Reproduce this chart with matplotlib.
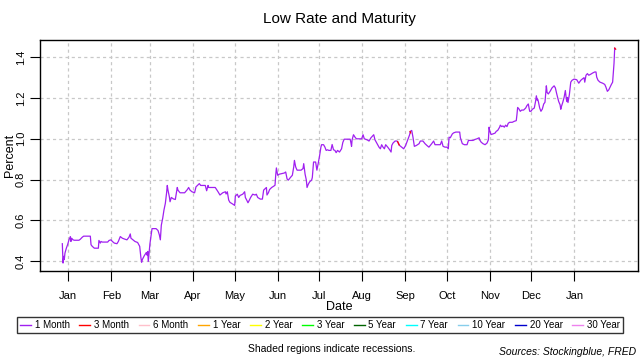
import datetime as dt
import numpy as np
import matplotlib
matplotlib.use("Agg")
import matplotlib.pyplot as plt
import matplotlib.dates as mdates
from matplotlib.lines import Line2D

plt.rcParams['font.family'] = ['Liberation Sans', 'DejaVu Sans']

# ---- data (day offsets from 2017-01-01, low rate in percent) ----
days = [
    -4.3, -3.8, -3.3, -2.9, -2.4, -1.4, -0.5, 0.5, 1.5, 1.9, 2.4, 3.4, 4.3, 7.7, 8.7, 10.1, 11.1, 15.9,
    16.4, 17.3, 18.8, 21.7, 22.1, 23.1, 23.6, 24.5, 28.4, 29.4, 30.8, 31.8, 33.2, 35.1, 36.1, 37.5,
    39.0, 40.9, 42.3, 43.8, 44.7, 45.2, 46.7, 48.1, 50.0, 51.5, 52.4, 52.9, 53.4, 54.8, 56.3, 56.8,
    57.3, 57.7,
    58.9, 59.9, 60.4, 63.3, 64.7, 65.7, 66.4, 67.1, 68.1, 69.0, 70.0, 70.9, 71.4, 71.9, 72.9, 73.4,
    74.3, 75.8, 77.2, 78.6, 79.1, 80.6, 83.9, 85.9, 86.8, 87.8, 89.2, 91.1, 92.1, 94.5, 95.5, 98.8,
    99.8, 100.8, 101.2, 106.0, 108.0, 109.4, 111.4, 113.3, 113.8, 114.7, 115.7, 116.6, 118.5, 120.0,
    120.5, 121.9, 122.9, 123.9, 125.8, 127.2, 127.7, 128.7, 129.6, 130.6, 131.5, 133.0,
    134.7, 135.6, 136.6, 138.5, 140.0, 140.9, 142.9, 143.3, 144.3, 145.2, 146.7, 148.1, 149.1, 149.6,
    150.1, 151.0, 152.0, 153.9, 155.8, 156.8, 157.8, 158.7, 160.2, 161.6, 162.6, 163.1, 164.0, 165.0,
    167.9, 169.3, 169.8, 170.8, 171.7, 172.2, 173.1, 174.1, 175.5, 176.0, 176.5, 176.9, 178.4, 179.3,
    180.3, 181.3, 182.2, 182.7, 184.1, 185.1, 186.0, 187.0, 187.9, 189.4, 190.3, 191.3, 192.3, 193.2,
    194.2, 195.6, 197.1, 198.0, 199.0, 203.3, 203.8, 204.3, 204.7, 205.7,
    206.8, 207.8, 211.6, 212.6, 213.5, 215.5, 216.9, 218.3, 220.3, 221.2, 222.7, 224.1, 225.1, 226.0,
    227.0, 228.0, 228.9, 230.4, 231.8, 232.8, 233.3, 234.2, 235.7, 237.1, 239.0, 240.5, 241.9, 243.3,
    244.8, 246.2, 246.7, 247.7, 248.6, 249.6, 251.0, 253.0, 253.9, 255.8, 257.3, 258.7, 260.1, 262.1,
    263.5, 264.5, 268.3, 269.3, 270.3, 271.7, 273.1, 274.1, 274.6, 275.5, 277.0, 277.9,
    279.5, 282.3, 282.8, 284.2, 285.7, 287.6, 288.6, 291.9, 293.4, 294.8, 296.3, 296.7, 297.7, 299.1,
    300.6, 302.0, 303.0, 303.5, 303.9, 304.9, 306.3, 307.8, 308.7, 309.7, 311.1, 311.6, 312.6, 313.5,
    314.5, 315.4, 316.4, 317.3, 318.3, 320.2, 321.7, 323.1, 323.6, 324.1, 325.1, 326.0, 327.0, 328.4,
    329.9, 330.8, 331.8, 332.3, 332.8, 333.7, 334.7, 336.1, 337.1, 337.6, 338.1, 338.5, 339.0, 340.0,
    340.9, 341.9, 342.9, 343.8, 344.8, 345.3, 346.2,
    347.5, 348.9, 350.4, 351.3, 352.3, 353.7, 354.7, 355.2, 355.6, 356.6, 357.6, 358.5, 359.0, 359.5,
    360.0, 360.4, 361.4, 362.4, 363.3, 364.8, 366.7, 368.2, 369.6, 371.0, 372.0, 372.5, 373.4, 374.4,
    375.4, 376.8, 378.2, 379.7, 380.6, 381.1, 382.1, 383.5, 385.4, 386.9, 387.8, 388.8, 389.8, 390.7,
    391.7, 392.6, 393.6, 394.1,
]
low_rate = [
    0.485, 0.390, 0.423, 0.407, 0.439, 0.463, 0.480, 0.504, 0.520, 0.496, 0.512, 0.504, 0.502, 0.502, 0.507, 0.517, 0.522, 0.522,
    0.480, 0.472, 0.463, 0.463, 0.501, 0.488, 0.496, 0.493, 0.493, 0.501, 0.504, 0.496, 0.488, 0.485, 0.496, 0.520,
    0.512, 0.507, 0.504, 0.517, 0.533, 0.512, 0.504, 0.496, 0.491, 0.472, 0.415, 0.394, 0.407, 0.426, 0.442, 0.429,
    0.447, 0.398,
    0.485, 0.537, 0.559, 0.559, 0.550, 0.528, 0.504, 0.576, 0.610, 0.650, 0.683, 0.735, 0.771, 0.748, 0.715, 0.691,
    0.712, 0.705, 0.702, 0.761, 0.748, 0.735, 0.735, 0.751, 0.761, 0.748, 0.740, 0.735, 0.764, 0.780, 0.771, 0.771,
    0.745, 0.771, 0.761, 0.761, 0.740, 0.724, 0.735, 0.740, 0.729, 0.740, 0.699, 0.688, 0.680, 0.673,
    0.719, 0.728, 0.712, 0.722, 0.728, 0.740, 0.712, 0.699, 0.686, 0.699, 0.712, 0.728,
    0.724, 0.728, 0.712, 0.704, 0.704, 0.748, 0.761, 0.724, 0.735, 0.751, 0.761, 0.767, 0.772, 0.821,
    0.857, 0.821, 0.826, 0.829, 0.832, 0.837, 0.803, 0.797, 0.810, 0.821, 0.862, 0.894, 0.862, 0.846,
    0.846, 0.854, 0.878, 0.826, 0.797, 0.761, 0.777, 0.789, 0.797, 0.810, 0.854, 0.886, 0.886, 0.846,
    0.881, 0.919, 0.959, 0.971, 0.971, 0.959, 0.943, 0.946, 0.943, 0.943, 0.972, 0.946, 0.943, 0.932,
    0.943, 0.935, 0.951, 0.982, 0.998, 0.998, 0.982, 0.963, 0.995, 1.020,
    1.008, 1.000, 1.000, 1.020, 1.000, 0.995, 0.989, 1.005, 1.020, 0.995, 0.976, 0.959, 0.951, 0.971,
    0.959, 0.951, 0.971, 0.959, 0.946, 0.935, 0.967, 0.979, 0.989, 0.989, 0.967, 0.959, 0.951, 0.967,
    0.995, 1.020, 1.036, 1.041, 1.008, 0.963, 0.967, 0.976, 0.989, 0.989, 0.976, 0.967, 0.959, 0.976,
    0.989, 0.971, 0.971, 0.989, 0.963, 0.959, 0.959, 0.951, 1.008, 1.005, 1.024, 1.029,
    1.033, 1.033, 1.005, 0.976, 0.971, 0.971, 0.992, 0.992, 0.997, 1.000, 1.005, 0.995, 0.984, 0.976,
    0.971, 0.979, 0.995, 1.057, 1.041, 1.021, 1.024, 1.028, 1.037, 1.041, 1.057, 1.067, 1.060, 1.063,
    1.057, 1.067, 1.060, 1.076, 1.081, 1.081, 1.086, 1.089, 1.119, 1.154, 1.146, 1.135, 1.141, 1.141,
    1.151, 1.163, 1.171, 1.151, 1.135, 1.135, 1.145, 1.151, 1.187, 1.211, 1.190, 1.195, 1.184, 1.151,
    1.135, 1.146, 1.171, 1.179, 1.260, 1.228, 1.220,
    1.233, 1.250, 1.260, 1.250, 1.220, 1.183, 1.167, 1.145, 1.157, 1.178, 1.203, 1.237, 1.207, 1.183,
    1.203, 1.178, 1.217, 1.278, 1.287, 1.293, 1.290, 1.273, 1.287, 1.295, 1.300, 1.278, 1.312, 1.320,
    1.312, 1.317, 1.323, 1.328, 1.328, 1.303, 1.287, 1.278, 1.273, 1.267, 1.253, 1.233, 1.240, 1.253,
    1.267, 1.278, 1.370, 1.445,
]
# short stretches where the 3 Month rate was the low rate
days_3m = [237.6, 238.6, np.nan, 246.5, 246.9, np.nan, 394.1, 394.8]
rate_3m = [0.986, 0.970, np.nan, 1.036, 1.029, np.nan, 1.445, 1.440]

maturities = ["1 Month", "3 Month", "6 Month", "1 Year", "2 Year", "3 Year",
              "5 Year", "7 Year", "10 Year", "20 Year", "30 Year"]
mat_colors = ["#A020F0", "#FF0000", "#FFC0CB", "#FFA500", "#FFFF00", "#00FF00",
              "#006400", "#00FFFF", "#87CEEB", "#0000CD", "#EE82EE"]

month_labels = ["Jan", "Feb", "Mar", "Apr", "May", "Jun", "Jul", "Aug", "Sep",
                "Oct", "Nov", "Dec", "Jan"]
y_ticks = [0.4, 0.6, 0.8, 1.0, 1.2, 1.4]

# ---- figure ----
base = mdates.date2num(dt.datetime(2017, 1, 1))
x = base + np.array(days)
x3 = base + np.array(days_3m)

fig = plt.figure(figsize=(6.4, 3.6), dpi=100)
ax = fig.add_axes([40/640, 1-271/360, 598/640, 231/360])

month_ticks = [mdates.date2num(dt.datetime(2017 + (m // 12), m % 12 + 1, 1)) for m in range(13)]
for t in month_ticks:
    ax.axvline(t, color="#c8c8c8", lw=0.9, ls=(0, (2.5, 2.5)), zorder=1)
for t in y_ticks:
    ax.axhline(t, color="#c8c8c8", lw=0.9, ls=(0, (2.5, 2.5)), zorder=1)

ax.plot(x, low_rate, color=mat_colors[0], lw=0.9, zorder=3)
ax.plot(x3, rate_3m, color=mat_colors[1], lw=0.9, zorder=4)

ax.set_xlim(base - 20.4, base + 410.9)
ax.set_ylim(0.351, 1.485)
ax.set_xticks(month_ticks)
ax.set_xticklabels(month_labels)
ax.set_yticks(y_ticks)
ax.set_yticklabels([f"{v:.1f}" for v in y_ticks], rotation=90, va="center")
ax.tick_params(axis="both", labelsize=8, length=7.3, width=0.8, color="black", direction="out")
ax.tick_params(axis="x", pad=7)
ax.tick_params(axis="y", pad=3)
for s in ax.spines.values():
    s.set_linewidth(1.0)
    s.set_color("black")

fig.text(339/640, 1-307/360, "Date", ha="center", va="center", fontsize=9)
fig.text(10/640, 1-155/360, "Percent", ha="center", va="center", fontsize=9, rotation=90)
fig.text(339/640, 1-19/360, "Low Rate and Maturity", ha="center", va="center", fontsize=11)

handles = [Line2D([0], [0], color=c, lw=1.0) for c in mat_colors]
leg = fig.legend(handles, maturities, loc="center", bbox_to_anchor=(320/640, 1-325/360),
                 ncol=11, fontsize=7, frameon=True, fancybox=False, edgecolor="black",
                 handlelength=1.1, handletextpad=0.4, columnspacing=1.0, borderpad=0.3,
                 borderaxespad=0)
leg.get_frame().set_linewidth(1.0)

fig.text(332/640, 1-349/360, "Shaded regions indicate recessions.", ha="center", va="center", fontsize=7.5)
fig.text(636/640, 1-352/360, "Sources: Stockingblue, FRED", ha="right", va="center",
         fontsize=7.5, style="italic")

fig.savefig("out.png", dpi=100)
